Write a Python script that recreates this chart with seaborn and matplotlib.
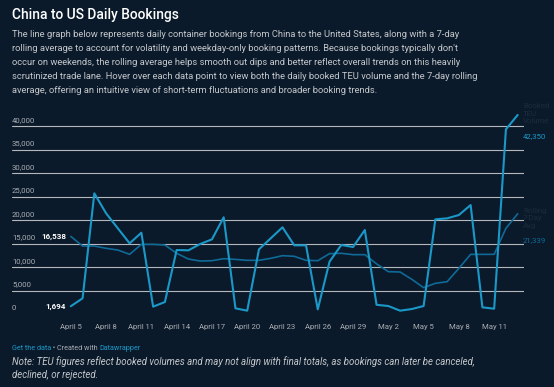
import pandas as pd
import matplotlib.pyplot as plt
import matplotlib.transforms as mtransforms
import seaborn as sns

# data (TEU), April 5 - May 13
dates = pd.date_range("2025-04-05", "2025-05-13", freq="D")
daily_teu = [1694, 3380, 25690, 21440, 18250, 15060, 17320, 1600, 2590, 13640,
             13570, 14920, 15910, 20590, 1250, 750, 13790, 16130, 18470, 14640,
             14640, 1030, 11160, 14710, 14280, 17890, 2000, 1740, 750, 1100,
             1740, 20160, 20370, 21080, 23200, 1460, 1170, 39290, 42350]
rolling_avg = [16538, 14490, 14490, 14000, 13640, 12720, 14850, 14850, 14700, 12940,
               11730, 11300, 11370, 11800, 11650, 11450, 11450, 11870, 12440, 12300,
               11450, 11370, 12870, 12940, 12650, 12650, 10700, 9040, 8970, 7410,
               5640, 6560, 6910, 9750, 12720, 12720, 12720, 18250, 21339]
yticks = [5000, 10000, 15000, 20000, 25000, 30000, 35000, 40000]

bg = '#0b1a2a'
daily_col = '#1a98c8'
avg_col = '#0f6a97'
grey_txt = '#a9adb2'

df = pd.DataFrame({'day': range(len(dates)), 'date': dates,
                   'Daily': daily_teu, 'Rolling': rolling_avg})

sns.set_style('dark')
plt.rcParams['font.family'] = ['Roboto', 'DejaVu Sans']

fig = plt.figure(figsize=(5.54, 3.87), dpi=100, facecolor=bg)
ax = fig.add_axes([0.0217, 0.1881, 0.9242, 0.5277])
ax.set_facecolor(bg)

sns.lineplot(data=df, x='day', y='Rolling', color=avg_col, lw=1.2, ax=ax)
sns.lineplot(data=df, x='day', y='Daily', color=daily_col, lw=1.5, ax=ax)

ax.set_xlim(-5.0, 38.54)
ax.set_ylim(0, 43400)
for s in ax.spines.values():
    s.set_visible(False)
ax.set_xlabel('')
ax.set_ylabel('')
ax.grid(False)

# gridlines + labels sitting above them
trans = mtransforms.blended_transform_factory(ax.transAxes, ax.transData)
for v in yticks:
    ax.axhline(v, color='#b4b8bc', lw=0.8, zorder=0)
ax.set_yticks([])
for v in [0] + yticks:
    ax.text(0, v + 700, f'{v:,}', transform=trans, ha='left', va='bottom',
            fontsize=5.6, color=grey_txt)

tick_idx = list(range(0, 37, 3))
ax.set_xticks(tick_idx)
ax.set_xticklabels([f"{dates[i].strftime('%B')} {dates[i].day}" for i in tick_idx],
                   fontsize=5.6, color=grey_txt)
ax.tick_params(axis='x', length=0, pad=7)

# start labels
ax.text(-0.4, rolling_avg[0], f'{rolling_avg[0]:,}', ha='right', va='center',
        fontsize=5.8, color='white', fontweight='bold')
ax.text(-0.4, daily_teu[0], f'{daily_teu[0]:,}', ha='right', va='center',
        fontsize=5.8, color='white', fontweight='bold')

# end labels
last = len(dates) - 1
ax.text(last + 0.45, daily_teu[-1] + 300, 'Booked\nTEU\nVolume', ha='left', va='center',
        fontsize=5.6, color='#1c2c3c', linespacing=1.25)
ax.text(last + 0.45, daily_teu[-1] - 4600, f'{daily_teu[-1]:,}', ha='left', va='center',
        fontsize=5.6, color=daily_col)
ax.text(last + 0.45, rolling_avg[-1] - 1000, 'Rolling\n7-Day\nAvg', ha='left', va='center',
        fontsize=5.6, color='#1c2c3c', linespacing=1.25)
ax.text(last + 0.45, rolling_avg[-1] - 5500, f'{rolling_avg[-1]:,}', ha='left', va='center',
        fontsize=5.6, color=avg_col)

# header
fig.text(12 / 554, 1 - 15 / 387, 'China to US Daily Bookings', ha='left', va='center',
         fontsize=9.9, color='white', fontweight='medium')
desc = ("The line graph below represents daily container bookings from China to the United States, along with a 7-day\n"
        "rolling average to account for volatility and weekday-only booking patterns. Because bookings typically don't\n"
        "occur on weekends, the rolling average helps smooth out dips and better reflect overall trends on this heavily\n"
        "scrutinized trade lane. Hover over each data point to view both the daily booked TEU volume and the 7-day rolling\n"
        "average, offering an intuitive view of short-term fluctuations and broader booking trends.")
fig.text(12 / 554, 1 - 30 / 387, desc, ha='left', va='top', fontsize=6.75,
         color='#c4c7cb', linespacing=1.72)

# footer
t1 = fig.text(12 / 554, 1 - 348 / 387, 'Get the data', ha='left', va='center',
              fontsize=5.2, color=daily_col)
fig.canvas.draw()
bb = t1.get_window_extent()
t2 = fig.text(bb.x1 / 554, 1 - 348 / 387, ' \u2022 Created with ', ha='left', va='center',
              fontsize=5.2, color=grey_txt)
bb = t2.get_window_extent()
fig.text(bb.x1 / 554, 1 - 348 / 387, 'Datawrapper', ha='left', va='center',
         fontsize=5.2, color=daily_col)
fig.text(12 / 554, 1 - 356 / 387,
         "Note: TEU figures reflect booked volumes and may not align with final totals, as bookings can later be canceled,\n"
         "declined, or rejected.", ha='left', va='top', fontsize=6.9, style='italic',
         color='#c4c7cb', linespacing=1.35)

fig.savefig('out.png', dpi=100, facecolor=bg)
